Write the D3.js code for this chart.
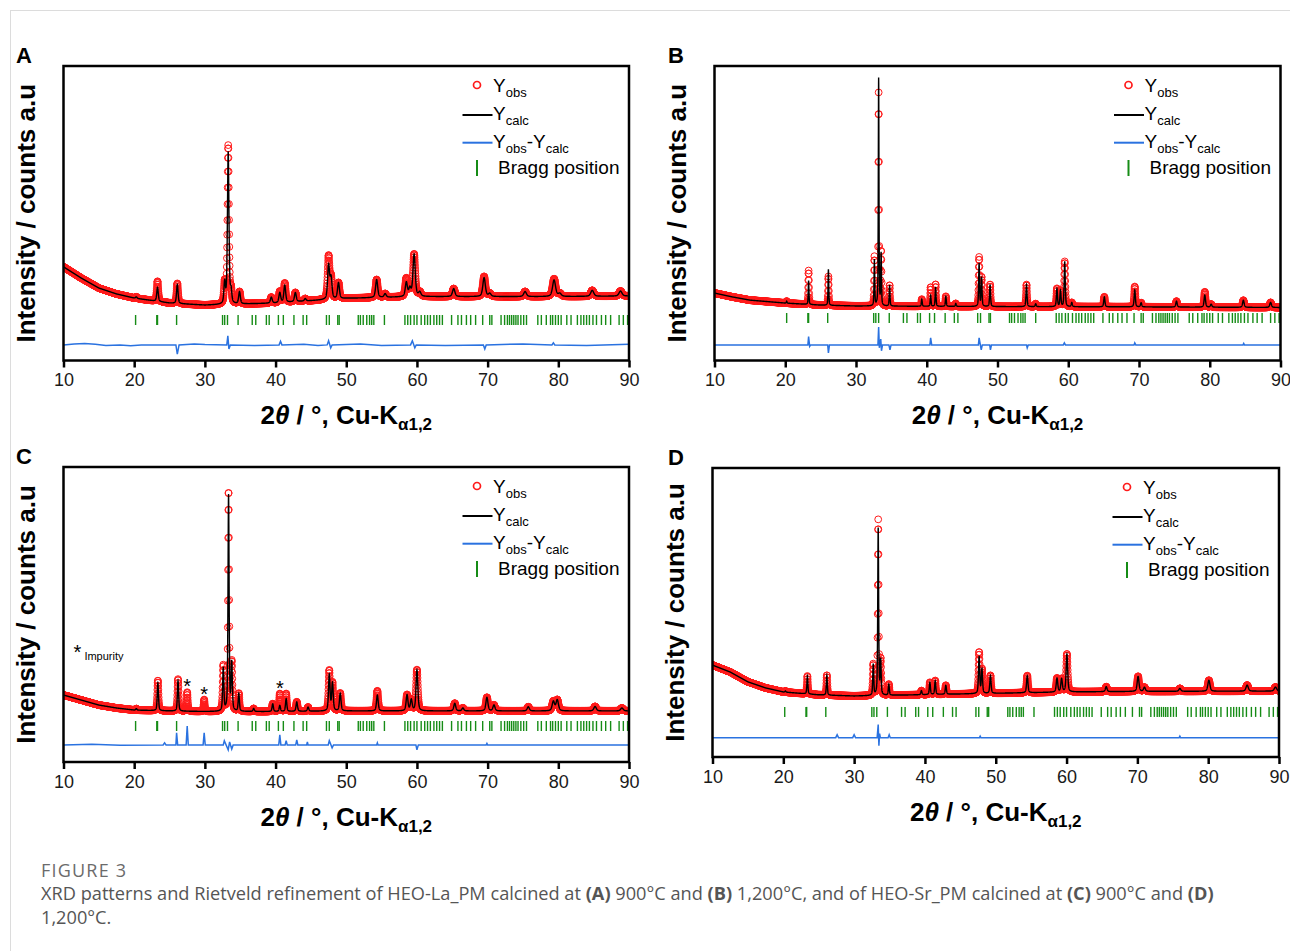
<!DOCTYPE html>
<html>
<head>
<meta charset="utf-8">
<script src="https://cdn.jsdelivr.net/npm/d3@7"></script>
<style>
body { margin: 0; background: #fff; }
text { font-family: "Liberation Sans", Arial, sans-serif; }
</style>
</head>
<body>
<div id="chart"></div>
<script>
// x axis (2theta) ticks
var xTicks = [10, 20, 30, 40, 50, 60, 70, 80, 90];
var panelLetters = ["A", "B", "C", "D"];

// background anchors [2theta, a.u.]
var bgA = [[10,318],[12.5,280],[15,246],[17.5,226],[20,212],[25,195],[30,188],[40,195],[50,211],[60,217],[70,217],[80,217],[90,219]];
var bgB = [[10,229],[12.5,216],[15,205],[20,195],[25,188],[30,185],[50,183],[70,182],[90,180]];
var bgC = [[10,227],[12.5,210],[15,193],[17.5,183],[20,176],[25,173],[30,171],[40,171],[50,173],[90,173]];
var bgD = [[10,318],[12.5,294],[15,260],[17.5,239],[20,225],[25,215],[30,211],[45,218],[60,225],[70,227],[90,228]];

// reflections [2theta, calc height, obs height, fwhm]
var peaksA = [
  [20.3,5,5,0.25],[23.3,48,68,0.25],[26.1,65,68,0.25],[32.8,70,70,0.25],[33.3,516,537,0.25],
  [33.7,40,40,0.25],[34.9,41,41,0.28],[39.4,20,20,0.3],[40.6,34,38,0.3],[41.3,58,65,0.3],
  [42.8,31,31,0.3],[44.2,8,8,0.3],[47.5,115,143,0.32],[47.85,70,70,0.32],[48.9,54,54,0.32],
  [54.3,61,61,0.35],[55.5,12,12,0.35],[58.5,48,61,0.35],[59.0,27,27,0.35],[59.6,143,143,0.38],
  [60.4,14,14,0.38],[65.2,27,27,0.4],[69.5,64,68,0.42],[70.3,10,10,0.42],[75.3,17,17,0.45],
  [79.4,56,60,0.5],[80.2,10,10,0.5],[84.8,20,20,0.5],[88.8,17,17,0.5]
];
var peaksB = [
  [20.2,7,7,0.12],[23.3,81,115,0.12],[26.1,122,98,0.12],[32.6,156,166,0.12],[33.2,773,722,0.11],
  [33.55,175,182,0.12],[34.75,71,71,0.13],[39.3,24,24,0.14],[40.55,37,65,0.14],[41.25,66,75,0.14],
  [42.7,34,34,0.15],[44.1,10,10,0.15],[47.4,146,166,0.15],[47.75,98,98,0.15],[48.95,75,75,0.16],
  [54.1,75,75,0.17],[55.4,10,10,0.17],[58.4,61,61,0.18],[58.9,54,54,0.18],[59.5,153,153,0.18],
  [60.5,14,14,0.18],[65.1,34,34,0.2],[69.4,58,69,0.2],[70.3,14,14,0.2],[75.3,20,20,0.22],
  [79.3,41,52,0.24],[80.2,10,10,0.24],[84.75,24,24,0.26],[88.6,17,17,0.28]
];
var peaksC = [
  [20.3,5,5,0.2],[23.35,94,102,0.2],[26.2,103,108,0.2],[27.5,0,64,0.18],[29.9,0,40,0.18],
  [32.6,146,153,0.2],[33.35,732,743,0.18],[33.8,160,160,0.2],[34.8,60,60,0.2],[36.9,10,10,0.22],
  [39.6,26,26,0.22],[40.6,20,60,0.22],[41.5,43,60,0.22],[43.0,32,32,0.24],[44.6,14,14,0.24],
  [47.6,122,136,0.25],[48.05,94,94,0.25],[49.15,60,60,0.26],[54.4,54,68,0.28],[58.6,54,54,0.3],
  [59.2,37,37,0.3],[60.0,139,139,0.3],[65.35,26,26,0.32],[66.5,10,10,0.32],[69.9,46,46,0.34],
  [70.9,20,20,0.34],[75.75,14,14,0.36],[79.3,32,32,0.4],[79.85,37,37,0.4],[85.2,15,15,0.42],
  [89.0,10,10,0.44]
];
var peaksD = [
  [20.3,4,4,0.16],[23.4,62,62,0.16],[26.15,69,69,0.16],[32.7,107,107,0.16],[33.4,578,606,0.15],
  [33.75,118,118,0.16],[34.9,38,38,0.17],[39.5,14,14,0.18],[40.7,42,42,0.18],[41.45,48,48,0.18],
  [42.95,31,31,0.19],[47.65,128,142,0.2],[48.05,83,83,0.2],[49.25,62,62,0.21],[54.45,59,59,0.23],
  [58.65,48,48,0.25],[59.3,45,45,0.25],[60.05,131,131,0.25],[65.6,17,17,0.28],[70.1,52,52,0.3],
  [71.0,14,14,0.3],[76.0,10,10,0.32],[80.1,38,38,0.35],[85.5,21,21,0.38],[89.5,14,14,0.4]
];

// Yobs-Ycalc [2theta, difference]
var diffA = [[10,0],[11.5,3],[13,5],[14.5,2],[16,-2],[18,0],[19.5,-3],[21,0],[25.9,0],[26.1,-31],[26.35,0],
  [28.5,3],[30,1],[33.1,0],[33.25,31],[33.4,-14],[33.6,0],[37,-2],[40.5,0],[40.7,12],[40.9,0],[44,2],[46,-2],
  [47.3,0],[47.5,14],[47.8,-10],[48.0,0],[52,3],[55,-2],[59.1,0],[59.35,14],[59.7,-10],[59.9,0],[64,-2],
  [69.4,0],[69.6,-14],[69.8,0],[75,3],[79.1,0],[79.3,7],[79.5,0],[84,-2],[90,2]];
var diffB = [[10,0],[23.2,0],[23.3,28],[23.45,-5],[23.6,0],[26.0,0],[26.1,-27],[26.25,0],[33.1,0],[33.2,61],
  [33.3,-10],[33.5,20],[33.6,-20],[33.75,0],[34.65,0],[34.8,-17],[34.95,0],[40.45,0],[40.55,24],[40.7,0],
  [47.3,0],[47.4,24],[47.7,-17],[47.85,0],[48.9,0],[49.0,-17],[49.15,0],[54.1,0],[54.2,-10],[54.35,0],
  [59.3,0],[59.45,7],[59.6,0],[69.3,0],[69.4,7],[69.55,0],[84.7,0],[84.8,5],[84.9,0],[90,0]];
var diffC = [[10,0],[14,2],[18,-1],[24.1,0],[24.3,7],[24.5,0],[25.9,0],[26.0,41],[26.15,0],[27.35,0],[27.5,64],[27.65,0],
  [29.75,0],[29.9,41],[30.05,0],[32.6,0],[32.75,14],[33.3,-17],[33.5,10],[33.8,-14],[34.0,0],[40.45,0],
  [40.6,34],[40.75,0],[41.35,0],[41.5,14],[41.65,0],[42.85,0],[43.0,17],[43.15,0],[44.4,0],[44.5,10],
  [44.6,0],[47.45,0],[47.6,14],[48.0,-10],[48.2,0],[54.3,0],[54.4,7],[54.5,0],[59.85,0],[60.0,-17],[60.2,0],
  [69.8,0],[69.9,5],[70.0,0],[90,0]];
var diffD = [[10,0],[27.4,0],[27.6,10],[27.8,0],[29.8,0],[30.0,10],[30.2,0],[33.25,0],[33.4,45],[33.5,-28],
  [33.6,14],[33.7,0],[34.8,0],[34.95,10],[35.1,0],[47.7,0],[47.8,5],[47.9,0],[75.9,0],[76.0,5],[76.1,0],[90,0]];
var diffOffsets = [53, 53, 58, 67];

// Bragg positions (2theta) and the level they are drawn at
var braggPos = [20.2,23.2,23.3,26.0,32.5,32.8,33.2,34.7,36.7,37.2,38.7,39.1,40.4,41.1,42.6,43.9,44.4,47.2,47.6,
  48.8,49.0,51.7,52.0,52.4,52.9,53.3,53.6,53.9,55.4,58.3,58.7,59.1,59.6,60.0,60.6,61.1,61.5,61.9,62.4,62.8,
  63.2,63.6,64.9,65.8,66.3,67.0,67.6,68.3,69.3,70.3,70.6,71.9,72.4,72.8,73.1,73.4,73.7,74.0,74.3,74.7,75.1,
  75.5,77.1,77.6,78.3,78.9,79.2,79.6,80.0,80.4,81.2,81.8,82.7,83.2,83.6,84.0,84.4,84.9,85.4,86.1,86.7,87.4,
  88.6,89.2,89.8];
var braggLevels = [137.5, 144, 122, 156];

// impurity reflections in C
var impurityPos = [27.5, 29.9, 40.6];
var impurityLabel = [11.4, 349];

var panels = [
  {bg: bgA, peaks: peaksA, diff: diffA, x0: 63.5, x1: 629, y0: 66, y1: 360.5, lx: 35, letterX: 16},
  {bg: bgB, peaks: peaksB, diff: diffB, x0: 714.5, x1: 1280.5, y0: 66, y1: 360.5, lx: 686, letterX: 668},
  {bg: bgC, peaks: peaksC, diff: diffC, x0: 63.5, x1: 629, y0: 467, y1: 762, lx: 35, letterX: 16},
  {bg: bgD, peaks: peaksD, diff: diffD, x0: 712.5, x1: 1279, y0: 468, y1: 757, lx: 684, letterX: 668}
];

var svg = d3.select("#chart").append("svg")
    .attr("width", 1290)
    .attr("height", 951);

svg.append("rect").attr("width", 1290).attr("height", 951).style("fill", "white");
svg.append("line").attr("x1", 10).attr("x2", 1290).attr("y1", 10.5).attr("y2", 10.5)
    .style("stroke", "#dcdcdc").style("stroke-width", 1);
svg.append("line").attr("x1", 10.5).attr("x2", 10.5).attr("y1", 10).attr("y2", 951)
    .style("stroke", "#dcdcdc").style("stroke-width", 1);

function pv(t, p, w) {
  var d = (t - p) / w;
  return 0.5 * Math.exp(-4 * Math.LN2 * d * d) + 0.5 / (1 + 4 * d * d);
}

var obsGrid = d3.range(0, 4001).map(function(i) { return 10 + i * 0.02; });
var calcGrid = d3.range(0, 8001).map(function(i) { return 10 + i * 0.01; });

function drawPanel(p, k) {
  var x = d3.scaleLinear().domain([10, 90]).range([p.x0, p.x1]);
  var y = d3.scaleLinear().domain([0, 1000]).range([p.y1, p.y0]);
  var bg = d3.scaleLinear().domain(p.bg.map(function(d) { return d[0]; }))
      .range(p.bg.map(function(d) { return d[1]; }));

  function level(t, col) {
    var s = bg(t);
    p.peaks.forEach(function(pk) {
      if (pk[col] > 0) s += pk[col] * pv(t, pk[0], pk[3]);
    });
    return s;
  }

  var g = svg.append("g");
  var clipId = "clip" + k;
  g.append("clipPath").attr("id", clipId).append("rect")
      .attr("x", p.x0).attr("y", p.y0)
      .attr("width", p.x1 - p.x0).attr("height", p.y1 - p.y0);

  var plot = g.append("g").attr("clip-path", "url(#" + clipId + ")");

  // observed
  plot.append("g").selectAll("circle").data(obsGrid).enter()
    .append("circle")
    .attr("cx", function(d) { return x(d); })
    .attr("cy", function(d) { return y(level(d, 2)); })
    .attr("r", 3.4)
    .style("fill", "none")
    .style("stroke", "#ff1a1a")
    .style("stroke-width", 1);

  // calculated
  var line = d3.line()
    .x(function(d) { return x(d); })
    .y(function(d) { return y(level(d, 1)); });
  plot.append("path").datum(calcGrid)
    .attr("d", line)
    .style("fill", "none")
    .style("stroke", "black")
    .style("stroke-width", 1.4);

  // bragg ticks
  plot.append("g").selectAll("line").data(braggPos).enter()
    .append("line")
    .attr("x1", function(d) { return x(d); })
    .attr("x2", function(d) { return x(d); })
    .attr("y1", y(braggLevels[k]) - 5)
    .attr("y2", y(braggLevels[k]) + 5)
    .style("stroke", "#168c16")
    .style("stroke-width", 1.4);

  // difference
  var dline = d3.line()
    .x(function(d) { return x(d[0]); })
    .y(function(d) { return y(diffOffsets[k] + d[1]); });
  plot.append("path").datum(p.diff)
    .attr("d", dline)
    .style("fill", "none")
    .style("stroke", "#2a72e0")
    .style("stroke-width", 1.5);

  // frame and axis
  g.append("rect")
    .attr("x", p.x0).attr("y", p.y0)
    .attr("width", p.x1 - p.x0).attr("height", p.y1 - p.y0)
    .style("fill", "none").style("stroke", "black").style("stroke-width", 2.5);

  var axis = g.append("g")
    .attr("transform", "translate(0," + p.y1 + ")")
    .call(d3.axisBottom(x).tickValues(xTicks).tickSize(7).tickPadding(6));
  axis.select(".domain").remove();
  axis.selectAll(".tick line").style("stroke", "black").style("stroke-width", 2.5);
  axis.selectAll(".tick text")
    .style("font-family", "Liberation Sans, Arial, sans-serif")
    .style("font-size", "18px")
    .style("fill", "#1a1a1a");

  // x title
  var xt = g.append("text")
    .attr("x", (p.x0 + p.x1) / 2)
    .attr("y", p.y1 + 63.5)
    .attr("text-anchor", "middle")
    .style("font-size", "26px")
    .style("font-weight", "bold");
  xt.append("tspan").text("2");
  xt.append("tspan").style("font-style", "italic").text("θ");
  xt.append("tspan").text(" / °, Cu-K");
  xt.append("tspan").attr("dy", 6).style("font-size", "17px").text("α1,2");

  // y title
  g.append("text")
    .attr("transform", "translate(" + p.lx + "," + ((p.y0 + p.y1) / 2) + ") rotate(-90)")
    .attr("text-anchor", "middle")
    .style("font-size", "26px")
    .style("font-weight", "bold")
    .text("Intensity / counts a.u");

  // panel letter
  g.append("text")
    .attr("x", p.letterX)
    .attr("y", p.y0 - 3)
    .style("font-size", "22px")
    .style("font-weight", "bold")
    .text(panelLetters[k]);

  // legend
  var lg = g.append("g").attr("transform", "translate(" + (p.x1 - 152) + "," + (p.y0 + 19) + ")");
  lg.append("circle").attr("cx", 0).attr("cy", 0).attr("r", 3.5)
    .style("fill", "none").style("stroke", "#ff1a1a").style("stroke-width", 1.7);
  var t1 = lg.append("text").attr("x", 16).attr("y", 6.7).style("font-size", "19px");
  t1.append("tspan").text("Y");
  t1.append("tspan").attr("dy", 5).style("font-size", "13px").text("obs");

  lg.append("line").attr("x1", -14.5).attr("x2", 15.5).attr("y1", 30).attr("y2", 30)
    .style("stroke", "black").style("stroke-width", 2);
  var t2 = lg.append("text").attr("x", 16).attr("y", 35).style("font-size", "19px");
  t2.append("tspan").text("Y");
  t2.append("tspan").attr("dy", 5).style("font-size", "13px").text("calc");

  lg.append("line").attr("x1", -14.5).attr("x2", 15.5).attr("y1", 57.7).attr("y2", 57.7)
    .style("stroke", "#2a72e0").style("stroke-width", 2);
  var t3 = lg.append("text").attr("x", 16).attr("y", 63).style("font-size", "19px");
  t3.append("tspan").text("Y");
  t3.append("tspan").attr("dy", 5).style("font-size", "13px").text("obs");
  t3.append("tspan").attr("dy", -5).text("-Y");
  t3.append("tspan").attr("dy", 5).style("font-size", "13px").text("calc");

  lg.append("line").attr("x1", 0).attr("x2", 0).attr("y1", 75).attr("y2", 91)
    .style("stroke", "#168c16").style("stroke-width", 2);
  lg.append("text").attr("x", 21).attr("y", 89).style("font-size", "19px").text("Bragg position");

  // impurity marks (panel C)
  if (k === 2) {
    g.selectAll(".imp").data(impurityPos).enter()
      .append("text")
      .attr("class", "imp")
      .attr("x", function(d) { return x(d); })
      .attr("y", function(d) { return y(level(d, 2)) + 1; })
      .attr("text-anchor", "middle")
      .style("font-size", "20px")
      .text("*");
    g.append("text")
      .attr("x", x(impurityLabel[0]))
      .attr("y", y(impurityLabel[1]))
      .style("font-size", "20px")
      .text("*");
    g.append("text")
      .attr("x", x(impurityLabel[0]) + 11)
      .attr("y", y(impurityLabel[1]) + 1)
      .style("font-size", "11px")
      .text("Impurity");
  }
}

panels.forEach(function(p, k) { drawPanel(p, k); });

// caption
svg.append("text")
  .attr("x", 41).attr("y", 877)
  .style("font-family", "Open Sans, sans-serif")
  .style("font-size", "18px")
  .style("letter-spacing", "1.2px")
  .style("fill", "#6b6b6b")
  .text("FIGURE 3");

var cap1 = svg.append("text")
  .attr("x", 41).attr("y", 900)
  .style("font-family", "Open Sans, sans-serif")
  .style("font-size", "18.2px")
  .style("fill", "#555");
var capParts = [
  ["XRD patterns and Rietveld refinement of HEO-La_PM calcined at ", false], ["(A)", true],
  [" 900°C and ", false], ["(B)", true], [" 1,200°C, and of HEO-Sr_PM calcined at ", false],
  ["(C)", true], [" 900°C and ", false], ["(D)", true]
];
capParts.forEach(function(c) {
  cap1.append("tspan").style("font-weight", c[1] ? "bold" : "normal").text(c[0]);
});
svg.append("text")
  .attr("x", 41).attr("y", 924)
  .style("font-family", "Open Sans, sans-serif")
  .style("font-size", "18.2px")
  .style("fill", "#555")
  .text("1,200°C.");
</script>
</body>
</html>
